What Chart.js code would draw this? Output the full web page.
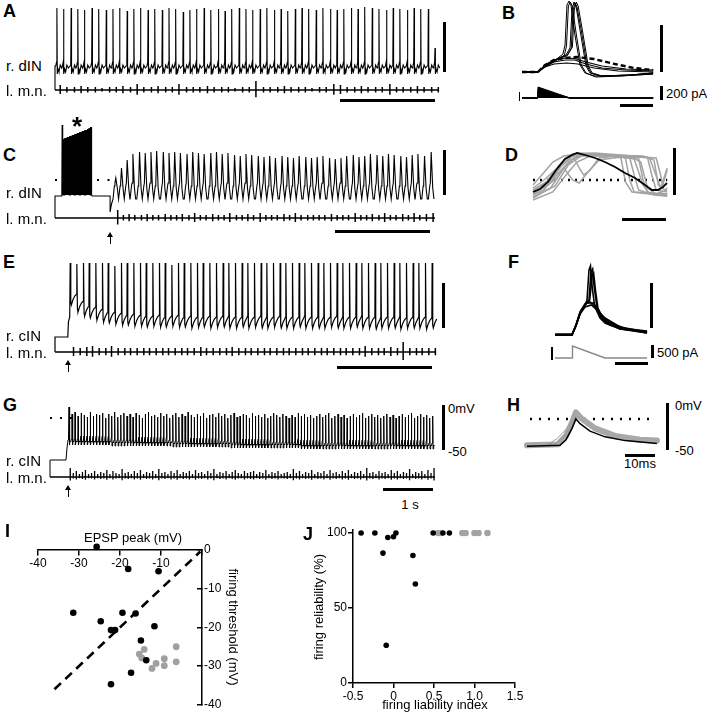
<!DOCTYPE html>
<html>
<head>
<meta charset="utf-8">
<title>dIN / cIN recordings</title>
<script src="https://cdn.jsdelivr.net/npm/chart.js@4.4.1/dist/chart.umd.min.js"></script>
<style>
  body { margin: 0; background: #fff; }
  #fig { position: relative; width: 707px; height: 719px; overflow: hidden; font-family: "Liberation Sans", Arial, sans-serif; color: #000; }
  #fig canvas { position: absolute; }
  .t { position: absolute; white-space: nowrap; line-height: 1; }
  .bar { position: absolute; background: #000; }
</style>
</head>
<body>
<div id="fig"></div>
<script>
// ---------- DATA ----------

// A: r. dIN spikes (s), spike peaks (mV), l.m.n. burst size per cycle
const aTimes = [0.02,0.09,0.17,0.24,0.31,0.39,0.46,0.54,0.61,0.68,
  0.76,0.83,0.90,0.98,1.05,1.13,1.20,1.27,1.35,1.42,
  1.49,1.57,1.64,1.72,1.79,1.86,1.94,2.01,2.08,2.16,
  2.23,2.31,2.38,2.45,2.53,2.60,2.67,2.75,2.82,2.90,
  2.97,3.04,3.12,3.19,3.26,3.34,3.41,3.49,3.56,3.63,
  3.71,3.78,3.85,3.93,4.00];
const aPeaks = [10,9,10,9,8,10,9,8,9,10, 7,9,10,8,9,8,10,9,6,8, 9,10,8,9,7,9,10,9,8,9,
  10,8,9,7,9,10,9,8,10,9, 8,9,10,9,11,10,9,8,10,9, 8,10,9,9,-30];
const aLmn = [5,3,3,4,3,3,2,3,3,4, 3,6,3,3,4,3,3,6,3,3, 3,4,3,3,3,2,3,3,9,3,
  3,3,4,3,3,3,2,3,3,6, 5,3,3,4,3,3,3,6,3,3, 3,4,3,3,3];

// C: evoked burst (*), then rhythmic activity
const cBurstTimes = [0.075,0.084,0.093,0.102,0.111,0.119,0.128,0.137,0.146,0.155,0.164,0.172,
  0.181,0.190,0.199,0.208,0.217,0.225,0.234,0.243,0.252,0.261,0.270,0.278,
  0.287,0.296,0.305,0.314,0.323,0.331,0.340,0.349,0.358,0.367,0.376,0.385];
const cBurstPeaks = [55,41,41,42,42,42,43,43,43,44,44,44,45,45,45,46,46,46,47,47,47,48,48,48,
  49,49,49,50,50,50,51,51,52,52,53,53];
const cTimes = [0.64,0.70,0.76,0.82,0.89,0.95,1.01,1.07,1.14,1.20,
  1.26,1.32,1.39,1.45,1.51,1.57,1.64,1.70,1.76,1.82,
  1.89,1.95,2.01,2.07,2.14,2.20,2.26,2.32,2.39,2.45,
  2.51,2.57,2.64,2.70,2.76,2.82,2.89,2.95,3.01,3.07,
  3.14,3.20,3.26,3.32,3.39,3.45,3.51,3.57,3.64,3.70,
  3.76,3.82,3.89,3.96];
const cPeaks = [2,12,20,26,28,27,28,29,28,27, 28,27,26,28,27,26,27,28,26,27, 25,24,26,25,24,23,24,22,24,23,
  22,24,23,22,23,24,22,21,22,24, 25,23,24,26,25,24,26,25,24,23, 25,26,24,28];
const cLmn = [8,3,4,3,3,4,3,3,4,3, 3,4,3,5,3,3,4,3,3,5, 3,3,4,3,5,3,3,3,4,3,
  5,3,3,3,3,3,4,3,3,3, 5,3,3,4,3,5,3,3,4,3, 5,3,4,5];

// E: r. cIN spikes
const eTimes = [0.16,0.23,0.30,0.36,0.43,0.50,0.56,0.63,0.70,0.76,
  0.83,0.90,0.96,1.03,1.10,1.16,1.23,1.30,1.36,1.43,
  1.50,1.56,1.63,1.70,1.77,1.83,1.90,1.97,2.03,2.10,
  2.17,2.23,2.30,2.37,2.43,2.50,2.57,2.63,2.70,2.77,
  2.83,2.90,2.97,3.03,3.10,3.17,3.23,3.30,3.37,3.43,
  3.50,3.57,3.63,3.70,3.77,3.83,3.90,3.97];
const ePeaks = [7,6,7,7,7,7,7,4,7,7, 7,7,7,7,7,7,5,7,7,7, 7,7,7,7,7,7,7,7,7,7,
  7,7,7,7,7,7,7,7,7,7, 7,7,7,7,7,7,7,7,7,7, 7,7,7,7,7,7,7,7];
const eTroughs = [-35,-42,-46,-48,-50,-52,-53,-54,-55,-55, -56,-56,-57,-56,-57,-57,-56,-57,-57,-58,
  -57,-57,-58,-57,-57,-58,-58,-57,-58,-57, -58,-58,-57,-58,-58,-58,-57,-58,-58,-58,
  -58,-57,-58,-58,-58,-57,-58,-58,-59,-58, -58,-58,-59,-58,-58,-58,-59,-58];
const eLmn = [5,4,5,6,4,4,6,4,4,4, 4,4,4,4,4,4,4,4,4,4, 5,4,4,4,4,5,4,4,4,4,
  4,4,4,4,4,4,4,4,4,4, 4,4,4,4,4,4,6,4,4,4, 5,4,10,4,4,4,4,4];

// G: r. cIN spikes (ms), peaks (mV), l.m.n. burst size
const gTimes = [380,441,502,563,624,684,746,806,867,929,
  990,1051,1112,1173,1234,1295,1357,1417,1479,1540,
  1601,1662,1723,1784,1846,1906,1967,2029,2090,2151,
  2212,2273,2334,2396,2457,2518,2579,2640,2701,2763,
  2824,2885,2946,3007,3068,3130,3191,3252,3313,3374,
  3435,3497,3558,3619,3680,3741,3802,3864,3925,3986,
  4047,4108,4169,4231,4292,4353,4414,4475,4536,4598,
  4659,4720,4781,4842,4903,4965,5026,5087,5148,5209,
  5270,5332,5393,5454,5515,5576,5637,5699,5760,5821,
  5882,5943,6004,6066,6127,6188,6249,6310,6371,6433,
  6494,6555,6616,6677,6738,6800,6861,6922,6983,7044,
  7105,7167,7228,7289,7350,7411,7472,7534,7595,7656];
const gPeaks = [11,4,6,2,5,3,1,6,2,4, 3,5,0,4,2,6,1,3,5,2, 4,1,5,3,0,4,6,2,3,1,
  5,2,4,0,3,5,1,4,2,6, 3,1,4,2,5,0,3,4,1,5, 2,4,0,3,5,1,2,4,3,0,
  5,2,3,1,4,0,2,5,3,1, 4,2,0,3,1,5,2,4,1,3, 0,2,4,1,3,5,0,2,4,1,
  3,0,2,4,1,3,5,0,2,4, 1,3,0,2,4,1,3,0,2,4, 1,3,5,0,2,4,1,3,0,2];
const gLmn = [9,4,6,3,5,7,3,4,6,3, 5,4,7,3,6,4,3,8,4,5, 3,6,4,7,3,5,4,6,3,8,
  4,5,3,6,4,7,3,5,4,6, 3,7,4,5,3,6,4,8,3,5, 4,6,3,5,7,4,3,6,4,5,
  6,3,5,4,7,3,5,4,6,3, 4,5,3,8,4,6,3,5,4,7, 3,5,4,6,3,7,4,5,3,6,
  4,7,3,5,4,6,3,9,4,5, 3,6,4,5,3,7,4,6,3,5, 4,8,3,5,4,6,3,7,4,9];
const gLevels = [[0, -21], [1.2, -22], [2.4, -23], [3.6, -24], [5.0, -25]];   // inter-spike level from time (s)

// B: dIN responses to current ramps (ms, mV)
const bSpikes = [
  [[0,-62],[10,-62],[14.4,-56],[18.75,-52],[22.5,-48],[25.6,-44],[26.9,-35],[28.1,5],[29.4,9],[30.6,5],[33.1,-25],[36.25,-55],[39.4,-63],[45.6,-66],[61.25,-66],[81.9,-64]],
  [[0,-62],[10,-62],[14.4,-57],[18.75,-53],[23,-49],[26.5,-45],[27.8,-36],[29,4],[30.2,8],[31.4,4],[34,-25],[37,-55],[40,-63],[46,-67],[61,-66],[82,-64]],
  [[0,-62],[10,-62],[14.4,-55],[18.75,-51],[23.75,-48],[27.5,-45],[30,-38],[31.25,0],[32.5,8],[33.75,4],[36.25,-20],[40,-56],[42.5,-63],[48.75,-66],[67.5,-65],[81.9,-63]],
  [[0,-62],[10,-62],[14.4,-56],[18.75,-52],[24,-48],[28,-46],[30.8,-38],[32,0],[33.2,7],[34.4,3],[37,-20],[40.7,-56],[43.2,-63],[49.5,-66],[68,-65],[82,-63]],
  [[0,-62],[10,-62],[14.4,-55],[19,-51],[24.5,-47],[28.5,-45],[31.5,-37],[32.7,0],[33.9,8],[35.1,4],[37.7,-20],[41.4,-56],[43.9,-63],[50,-66],[68,-65],[82,-63]]
];
const bSub = [
  [[0,-62],[10,-62],[14.4,-56],[20,-52],[27,-50],[33,-50],[40,-54],[50,-58],[65,-60],[82,-61]],
  [[0,-62],[10,-62],[14.4,-55],[20,-50],[27,-48],[33,-48.5],[40,-52],[50,-56],[65,-59],[82,-60]],
  [[0,-62],[10,-62],[14.4,-57],[20,-54],[28,-53],[35,-54],[45,-58],[60,-61],[82,-62]]
];
const bDashed = [[0,-62],[10,-62],[14.4,-55],[20,-50],[26,-48],[34,-47],[45,-49],[58,-54],[70,-58],[82,-60]];
const bRamps = [154, 130, 105, 80, 55];           // ramp start amplitude (pA)
const bRampOn = 10, bRampOff = 30, bEnd = 82;     // ms

// D: superimposed cycles (ms, mV rel. dotted line)
const dGray = [
  [[0,-15],[5,-10],[10,5],[15,22],[20,27],[30,26],[40,24],[48,22],[50,0],[52,-12],[58,-15],[61,-14]],
  [[0,-10],[6,-2],[12,15],[18,26],[28,27],[40,25],[52,23],[54,5],[56,-10],[61,-12]],
  [[0,-18],[8,-8],[14,12],[19,22],[24,25],[34,24],[44,22],[46,5],[48,-10],[55,-15],[61,-16]],
  [[0,-8],[5,0],[10,10],[15,18],[18,25],[21,12],[23,5],[26,10],[30,22],[38,24],[42,22],[44,0],[46,-12],[61,-14]],
  [[0,-14],[7,-5],[12,8],[17,20],[22,26],[36,25],[56,22],[58,5],[59,-5],[61,10]],
  [[0,-20],[9,-12],[15,5],[20,18],[26,24],[36,24],[40,22],[42,-2],[45,-12],[61,-16]],
  [[0,-5],[4,5],[9,18],[14,24],[20,26],[30,25],[50,24],[55,20],[57,-5],[60,-10],[61,-8]],
  [[0,-12],[6,-6],[11,2],[14,12],[18,0],[21,-3],[25,8],[30,20],[40,23],[46,21],[50,-5],[53,-14],[61,-15]],
  [[0,-17],[10,-6],[16,15],[22,24],[32,25],[45,23],[49,18],[52,-8],[56,-14],[61,-10]],
  [[0,-11],[8,0],[13,14],[18,24],[26,26],[42,24],[53,22],[55,10],[58,-8],[60,5],[61,12]]
];
const dMean = [[0,-12],[3.2,-9],[6.8,-2],[10.5,10],[14.5,21],[17.7,25],[20,27],[23.6,25],[28.2,22],[32.7,18],[37.3,13],[41.8,7],[46.4,2],[50.9,-5],[54.1,-10],[56.8,-10],[59.1,-7],[60.9,-3]];

// F: cIN responses to current ramps (ms, mV)
const fTraces = [
  [[0,-65],[10.3,-65],[12.7,-55],[15.2,-42],[18.2,-35],[19.4,-30],[20.6,0],[21.5,4],[22.4,-15],[24,-36],[27.3,-48],[30.3,-53],[39.4,-59],[55.8,-62]],
  [[0,-65],[10.3,-65],[12.7,-56],[15.2,-43],[18.2,-35],[20.6,-30],[21.8,-2],[22.8,1],[23.6,-15],[25.5,-38],[28,-48],[33.3,-55],[45.5,-60],[55.8,-62]],
  [[0,-65],[10.3,-65],[13,-54],[15.5,-42],[18.2,-34],[21,-30],[22.6,-5],[23.4,-3],[24.5,-20],[26,-38],[30.3,-52],[39.4,-59],[55.8,-63]],
  [[0,-65],[10.3,-65],[12.7,-55],[15.2,-42],[18.2,-34],[21.2,-32],[24.2,-36],[27.3,-44],[33.3,-53],[45.5,-60],[55.8,-63]],
  [[0,-65],[10.3,-65],[12.7,-56],[15.2,-44],[18.2,-37],[22,-35],[25.5,-40],[30.3,-48],[39.4,-57],[55.8,-62]],
  [[0,-64],[10.3,-64],[13,-54],[16,-40],[19.4,-33],[23.6,-33],[26,-42],[30,-50],[39.4,-58],[55.8,-61]]
];
const fCurrent = [[0,0],[10.6,0],[10.6,460],[30.3,0],[55.8,0]];   // pA

// H: superimposed cIN spikes (ms, mV)
const hMean = [[0,-46],[11,-45],[13,-39],[15,-27],[16.3,-17],[17.7,-22],[21,-30],[26,-36],[32.7,-40],[43.3,-43]];
const hBand = [[0,-45],[10.3,-44],[13,-35],[15,-21],[16.3,-10],[18,-16],[22.7,-27],[29.3,-35],[37.7,-39],[43.3,-40]];
const hThin = [
  [[9,-45],[12,-37],[14,-28],[15.5,-20],[16.3,-14]],
  [[7,-44],[10,-38],[13,-28],[15.5,-17]]
];
const hDotLevel = -17;

// I: EPSP peak vs firing threshold (mV)
const iBlackX = [-25.7,-18.0,-10.6,-31.4,-24.7,-19.4,-16.2,-22.2,-21.2,-11.6,-14.9,-13.6,-17.3,-22.2];
const iBlackY = [0.8,-4.9,-5.5,-16.2,-18.4,-16.2,-16.4,-20.7,-20.7,-19.7,-23.4,-28.5,-31.7,-34.7];
const iGrayX = [-14.1,-15.3,-14.7,-11.2,-12.2,-9.2,-9.2,-6.3,-6.3];
const iGrayY = [-25.7,-26.9,-27.9,-29.3,-30.6,-28.1,-29.9,-25.0,-28.9];
const iUnity = [-36, -0.4];
const iTicks = [-40, -30, -20, -10, 0];

// J: firing liability index vs firing reliability (%)
const jBlackX = [-0.40,-0.23,-0.13,-0.07,0.00,0.03,-0.09,0.24,0.27,0.49,0.61,0.69];
const jBlackY = [100,100,86.6,97,97.5,100,25.2,85,66,100,100,100];
const jGrayX = [0.55,0.58,0.85,0.89,1.00,1.05,1.16];
const jGrayY = [100,100,100,100,100,100,100];
const jXTicks = [-0.5, 0, 0.5, 1, 1.5];
const jYTicks = [0, 50, 100];

// ---------- HELPERS ----------
const fig = document.getElementById('fig');
Chart.defaults.font.family = '"Liberation Sans", Arial, sans-serif';
Chart.defaults.color = '#000';

function P(x, y) { return { x: x, y: y }; }
function pts(arr) { return arr.map(p => P(p[0], p[1])); }

function txt(s, x, y, size, opt) {
  opt = opt || {};
  const d = document.createElement('div');
  d.className = 't';
  d.textContent = s;
  d.style.left = x + 'px';
  d.style.top = y + 'px';
  d.style.fontSize = size + 'px';
  if (opt.bold) d.style.fontWeight = 'bold';
  let tr = opt.center ? 'translate(-50%,-50%)' : 'translateY(-50%)';
  if (opt.rot) tr += ' rotate(' + opt.rot + 'deg)';
  d.style.transform = tr;
  fig.appendChild(d);
}
function bar(x, y, w, h) {
  const d = document.createElement('div');
  d.className = 'bar';
  d.style.cssText = 'left:' + x + 'px;top:' + y + 'px;width:' + w + 'px;height:' + h + 'px;';
  fig.appendChild(d);
}
function arrow(x, y1, y2) {
  bar(x - 0.5, y1 + 4, 1.2, y2 - y1 - 4);
  const h = document.createElement('div');
  h.style.cssText = 'position:absolute;left:' + (x - 2.9) + 'px;top:' + y1 + 'px;width:0;height:0;' +
    'border-left:3px solid transparent;border-right:3px solid transparent;border-bottom:5px solid #000;';
  fig.appendChild(h);
}
function canvasAt(box) {
  const c = document.createElement('canvas');
  c.width = box[2]; c.height = box[3];
  c.style.left = box[0] + 'px'; c.style.top = box[1] + 'px';
  c.style.width = box[2] + 'px'; c.style.height = box[3] + 'px';
  fig.appendChild(c);
  return c;
}
function line(data, color, width, extra) {
  return Object.assign({ data: data, showLine: true, borderColor: color, borderWidth: width,
    pointRadius: 0, fill: false, tension: 0, yAxisID: 'y' }, extra || {});
}
// chart with hidden axes filling its canvas
function traceChart(box, xr, yAxes, datasets) {
  const scales = { x: { type: 'linear', display: false, min: xr[0], max: xr[1] } };
  Object.keys(yAxes).forEach(k => {
    scales[k] = { type: 'linear', axis: 'y', display: false, min: yAxes[k][0], max: yAxes[k][1] };
  });
  return new Chart(canvasAt(box), {
    type: 'scatter',
    data: { datasets: datasets },
    options: { responsive: false, animation: false, devicePixelRatio: 1, events: [],
      layout: { padding: 0 }, plugins: { legend: { display: false }, tooltip: { enabled: false } },
      scales: scales }
  });
}
function lmnPoints(t0, t1, times, heights, offset, base, down) {
  const p = [P(t0, base)];
  times.forEach((t, i) => {
    const tt = t + offset, h = heights[i];
    p.push(P(tt, base), P(tt, base + h), P(tt, base - h * down), P(tt, base));
  });
  p.push(P(t1, base));
  return p;
}

// ---------- A ----------
const aRest = -48, aLmnBase = -72;
const aTrace = [P(0, aLmnBase), P(0, aRest)];
aTimes.forEach((t, i) => {
  aTrace.push(P(t - 0.012, aRest), P(t - 0.004, aRest + 4), P(t, aPeaks[i]), P(t + 0.004, aRest - 8),
    P(t + 0.012, aRest - 3), P(t + 0.022, aRest - 6), P(t + 0.035, aRest + 1), P(t + 0.05, aRest - 2));
});
traceChart([45, 0, 400, 100], [-0.10526, 4.10526], { y: [-82, 18] }, [
  line(aTrace, '#000', 1.1),
  line(lmnPoints(0, 4.02, aTimes, aLmn, 0.035, aLmnBase, 0.8), '#000', 1.5)
]);

// ---------- B ----------
const bDs = [];
bSpikes.forEach(s => bDs.push(line(pts(s), '#000', 1)));
bSub.forEach(s => bDs.push(line(pts(s), '#000', 1.2)));
bDs.push(line(pts(bDashed), '#000', 2.4, { borderDash: [5, 3] }));
bRamps.forEach((a, i) => bDs.push(line([P(0, 0), P(bRampOn, 0), P(bRampOn, a), P(bRampOff, 0), P(bEnd, 0)], '#000', 1,
  { yAxisID: 'yI', fill: i === 0 ? 'origin' : false, backgroundColor: '#000' })));
traceChart([515, 0, 145, 105], [-4.375, 86.25], { y: [-95, 10], yI: [-98, 1372] }, bDs);

// ---------- C ----------
const cRest = -16, cLmnBase = -38, cBurstEnd = 0.39, cStepOff = 0.58;
const cTrace = [P(0, cLmnBase), P(0, cRest), P(cBurstTimes[0] - 0.006, cRest)];
cBurstTimes.forEach((t, i) => cTrace.push(P(t - 0.003, -12), P(t, cBurstPeaks[i]), P(t + 0.003, -15)));
cTrace.push(P(cBurstEnd, cRest), P(cStepOff, cRest), P(cStepOff, -32), P(cStepOff + 0.015, -24));
cTimes.forEach((t, i) => cTrace.push(P(t - 0.029, -19), P(t - 0.015, -6), P(t - 0.009, -3), P(t, cPeaks[i]),
  P(t + 0.016, -8), P(t + 0.029, -19)));
traceChart([45, 110, 400, 125], [-0.10526, 4.10526], { y: [-55, 70] }, [
  line(cTrace, '#000', 1.1),
  line(lmnPoints(0, 4.0, cTimes, cLmn, 0.02, cLmnBase, 0.8), '#000', 1.5),
  line([P(0, 0), P(0.6, 0)], '#000', 2, { borderDash: [2, 8.5] })
]);

// ---------- D ----------
const dDs = [line(pts(dMean), '#000', 1.8)];
dGray.forEach(g => dDs.push(line(pts(g), '#a3a3a3', 1.5)));
dDs.push(line([P(0, 0), P(61, 0)], '#000', 2.5, { borderDash: [2, 5] }));
traceChart([528, 135, 145, 70], [-2.273, 63.64], { y: [-25, 45] }, dDs);

// ---------- E ----------
const eStep = -67, eLmnBase = -82, eStepOff = 0.135;
const eTrace = [P(0, eLmnBase), P(0, eStep), P(eStepOff, eStep), P(eStepOff + 0.006, -52), P(eStepOff + 0.02, -47)];
eTimes.forEach((t, i) => {
  const tr = eTroughs[i], pre = (i ? eTroughs[i - 1] : -58) + 11;
  eTrace.push(P(t - 0.003, pre), P(t, ePeaks[i]), P(t + 0.006, tr + 3), P(t + 0.012, tr),
    P(t + 0.028, tr + 5), P(t + 0.048, tr + 9));
});
traceChart([45, 255, 400, 105], [-0.10526, 4.10526], { y: [-90, 15] }, [
  line(eTrace, '#000', 1.2),
  line(lmnPoints(0, 4.0, eTimes, eLmn, 0.035, eLmnBase, 0.8), '#000', 1.5)
]);

// ---------- F ----------
const fDs = fTraces.map(f => line(pts(f), '#000', 1.6));
fDs.push(line(pts(fCurrent), '#888', 1.4, { yAxisID: 'yI' }));
traceChart([545, 258, 110, 105], [-6.06, 60.6], { y: [-93, 12], yI: [-192, 3846] }, fDs);

// ---------- G ----------
const gStep = -42, gLmnBase = -59, gStepOff = 0.32;
function gLevel(t) { let v = gLevels[0][1]; gLevels.forEach(l => { if (t >= l[0]) v = l[1]; }); return v; }
const gTrace = [P(0, gLmnBase), P(0, gStep), P(gStepOff, gStep), P(gStepOff + 0.02, -30), P(gStepOff + 0.04, -22)];
gTimes.forEach((ms, i) => {
  const t = ms / 1000, b = gLevel(t);
  gTrace.push(P(t - 0.015, b), P(t - 0.004, b + 3), P(t, gPeaks[i]), P(t + 0.006, b - 6),
    P(t + 0.018, b - 2), P(t + 0.035, b - 3));
});
traceChart([40, 395, 405, 90], [-0.2, 7.9], { y: [-67, 23] }, [
  line(gTrace, '#000', 1),
  line(lmnPoints(0, 7.7, gTimes.map(v => v / 1000), gLmn, 0.025, gLmnBase, 0.4), '#000', 1.3),
  line([P(0, 0), P(0.45, 0)], '#000', 2, { borderDash: [2, 8] })
]);

// ---------- H ----------
const hDs = [line(pts(hMean), '#000', 1.5)];
hThin.forEach(h => hDs.push(line(pts(h), '#999', 1)));
hDs.push(line(pts(hBand), '#a8a8a8', 6, { borderJoinStyle: 'round', borderCapStyle: 'round' }));
hDs.push(line([P(1, hDotLevel), P(42.7, hDotLevel)], '#000', 2.5, { borderDash: [2, 7] }));
traceChart([520, 395, 145, 60], [-2.333, 46], { y: [-55.3, 8.51] }, hDs);

// ---------- I ----------
const axisGrid = { drawOnChartArea: false, color: '#000', tickLength: 5, lineWidth: 1.5 };
const axisBorder = { color: '#000', width: 1.5 };
new Chart(canvasAt([0, 515, 300, 204]), {
  type: 'scatter',
  data: { datasets: [
    { data: iBlackX.map((x, i) => P(x, iBlackY[i])), backgroundColor: '#000', borderWidth: 0, pointRadius: 3.3, clip: false },
    { data: iGrayX.map((x, i) => P(x, iGrayY[i])), backgroundColor: '#a0a0a0', borderWidth: 0, pointRadius: 3.4 },
    { data: iUnity.map(v => P(v, v)), showLine: true, borderColor: '#000', borderWidth: 2.6, borderDash: [9, 6], pointRadius: 0 }
  ] },
  options: { responsive: false, animation: false, devicePixelRatio: 1, events: [],
    layout: { padding: { left: 38, top: 35, right: 0, bottom: 6 } },
    plugins: { legend: { display: false }, tooltip: { enabled: false } },
    scales: {
      x: { type: 'linear', min: -40, max: 0, position: { y: 0 },
        afterBuildTicks: s => { s.ticks = iTicks.map(v => ({ value: v })); },
        ticks: { font: { size: 12 }, color: '#000', padding: 1, callback: v => (v === 0 ? '' : v) },
        grid: axisGrid, border: axisBorder },
      y: { type: 'linear', min: -40, max: 0, position: 'right',
        afterBuildTicks: s => { s.ticks = iTicks.map(v => ({ value: v })); },
        afterFit: s => { s.width = 98; },
        ticks: { font: { size: 12 }, color: '#000', padding: 7 },
        grid: Object.assign({}, axisGrid, { tickLength: -5 }), border: axisBorder }
    } }
});

// ---------- J ----------
new Chart(canvasAt([300, 520, 240, 199]), {
  type: 'scatter',
  data: { datasets: [
    { data: jBlackX.map((x, i) => P(x, jBlackY[i])), backgroundColor: '#000', borderWidth: 0, pointRadius: 2.8 },
    { data: jGrayX.map((x, i) => P(x, jGrayY[i])), backgroundColor: '#a3a3a3', borderWidth: 0, pointRadius: 3.3 }
  ] },
  options: { responsive: false, animation: false, devicePixelRatio: 1, events: [],
    layout: { padding: { left: 0, top: 10, right: 25, bottom: 0 } },
    plugins: { legend: { display: false }, tooltip: { enabled: false } },
    scales: {
      x: { type: 'linear', min: -0.5, max: 1.5, position: 'bottom',
        afterBuildTicks: s => { s.ticks = jXTicks.map(v => ({ value: v })); },
        afterFit: s => { s.height = 36; },
        ticks: { font: { size: 12 }, color: '#000', padding: 1 },
        grid: axisGrid, border: axisBorder },
      y: { type: 'linear', min: 0, max: 102, position: 'left',
        afterBuildTicks: s => { s.ticks = jYTicks.map(v => ({ value: v })); },
        afterFit: s => { s.width = 53; },
        ticks: { font: { size: 12 }, color: '#000', padding: 1 },
        grid: axisGrid, border: axisBorder }
    } }
});

// ---------- LABELS, SCALE BARS ----------
[['A', 3, 11], ['B', 502, 13], ['C', 3, 155], ['D', 505, 155], ['E', 3, 262], ['F', 508, 262],
 ['G', 3, 405], ['H', 507, 405], ['I', 5, 531], ['J', 303, 534]].forEach(l => txt(l[0], l[1], l[2], 18, { bold: true }));

txt('r. dIN', 6, 65, 15); txt('l. m.n.', 6, 90, 15);
txt('r. dIN', 6, 192, 15); txt('l. m.n.', 6, 218, 15);
txt('r. cIN', 6, 335, 15); txt('l. m.n.', 6, 352, 15);
txt('r. cIN', 6, 460, 15); txt('l. m.n.', 6, 477, 15);
txt('*', 72, 126, 26, { bold: true });
txt('200 pA', 666, 93, 13);
txt('500 pA', 657, 352, 13);
txt('0mV', 448, 408, 13); txt('-50', 448, 451, 13);
txt('0mV', 675, 405, 13); txt('-50', 675, 450, 13);
txt('1 s', 410, 504, 13, { center: true });
txt('10ms', 640, 463, 13, { center: true });

txt('EPSP peak (mV)', 133, 537, 13, { center: true });
txt('firing threshold (mV)', 233, 627, 13, { center: true, rot: 90 });
txt('firing reliability (%)', 318, 607, 13, { center: true, rot: -90 });
txt('firing liability index', 435, 704, 13, { center: true });

// A
bar(443, 22, 3, 50); bar(340, 99, 95, 2.5);
// B
bar(660, 25, 3, 47); bar(660, 86, 3, 14); bar(620, 104, 33, 2.5); bar(518.5, 92, 1.5, 9);
// C
bar(443, 150, 3, 45); bar(335, 230, 95, 2.5);
arrow(110, 232, 244);
// D
bar(673, 148, 3, 47); bar(622, 218, 44, 2.5);
// E
bar(442, 283, 3, 45); bar(337, 366, 95, 2.5);
arrow(68, 360, 372);
// F
bar(650, 283, 3, 45); bar(651, 345, 3, 13); bar(615, 362, 33, 2.5); bar(551, 347, 1.5, 13);
// G
bar(442, 405, 3, 45); bar(383, 488, 50, 2.5);
arrow(68, 485, 497);
// H
bar(666, 403, 3, 47); bar(625, 454, 30, 2.5);
</script>
</body>
</html>
